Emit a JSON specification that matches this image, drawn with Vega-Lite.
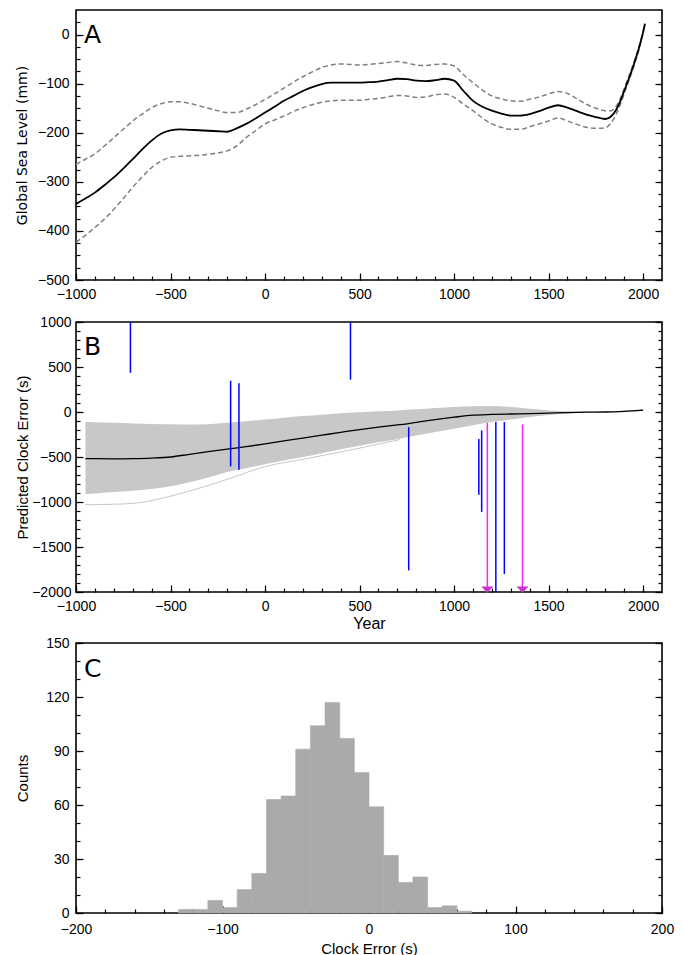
{
  "$schema": "https://vega.github.io/schema/vega-lite/v6.json",
  "background": "white",
  "padding": {"left": 14, "top": 9, "right": 10, "bottom": 5},
  "config": {
    "view": {"stroke": "black", "strokeWidth": 1.6},
    "axis": {
      "domain": false, "grid": false,
      "tickColor": "black", "tickWidth": 1.2,
      "labelFont": "Liberation Sans", "labelFontSize": 14, "labelColor": "black",
      "labelOverlap": false, "labelFlush": false,
      "titleFont": "Liberation Sans", "titleFontSize": 15, "titleFontWeight": "normal", "titleColor": "black"
    }
  },
  "datasets": {
    "sea": [
      {"year": -1000, "mean": -345, "upper": -264, "lower": -423},
      {"year": -950, "mean": -334, "upper": -254, "lower": -409},
      {"year": -900, "mean": -322, "upper": -243, "lower": -393},
      {"year": -850, "mean": -307, "upper": -227, "lower": -376},
      {"year": -800, "mean": -291, "upper": -210, "lower": -356},
      {"year": -750, "mean": -273, "upper": -193, "lower": -334},
      {"year": -700, "mean": -254, "upper": -176, "lower": -311},
      {"year": -650, "mean": -234, "upper": -162, "lower": -290},
      {"year": -600, "mean": -216, "upper": -149, "lower": -271},
      {"year": -550, "mean": -202, "upper": -141, "lower": -258},
      {"year": -500, "mean": -195, "upper": -137, "lower": -250},
      {"year": -450, "mean": -193, "upper": -137, "lower": -248},
      {"year": -400, "mean": -194, "upper": -140, "lower": -247},
      {"year": -350, "mean": -195, "upper": -145, "lower": -246},
      {"year": -300, "mean": -196, "upper": -150, "lower": -244},
      {"year": -250, "mean": -197, "upper": -155, "lower": -241},
      {"year": -200, "mean": -198, "upper": -159, "lower": -237},
      {"year": -150, "mean": -191, "upper": -159, "lower": -227},
      {"year": -100, "mean": -182, "upper": -152, "lower": -210},
      {"year": -50, "mean": -171, "upper": -143, "lower": -196},
      {"year": 0, "mean": -159, "upper": -132, "lower": -182},
      {"year": 50, "mean": -147, "upper": -121, "lower": -174},
      {"year": 100, "mean": -135, "upper": -109, "lower": -166},
      {"year": 150, "mean": -125, "upper": -97, "lower": -157},
      {"year": 200, "mean": -115, "upper": -86, "lower": -149},
      {"year": 250, "mean": -107, "upper": -76, "lower": -143},
      {"year": 300, "mean": -101, "upper": -67, "lower": -138},
      {"year": 350, "mean": -98, "upper": -62, "lower": -135},
      {"year": 400, "mean": -98, "upper": -60, "lower": -134},
      {"year": 450, "mean": -98, "upper": -61, "lower": -134},
      {"year": 500, "mean": -98, "upper": -62, "lower": -134},
      {"year": 550, "mean": -97, "upper": -61, "lower": -132},
      {"year": 600, "mean": -96, "upper": -59, "lower": -130},
      {"year": 650, "mean": -93, "upper": -57, "lower": -127},
      {"year": 700, "mean": -90, "upper": -55, "lower": -124},
      {"year": 750, "mean": -91, "upper": -58, "lower": -125},
      {"year": 800, "mean": -94, "upper": -62, "lower": -128},
      {"year": 850, "mean": -95, "upper": -63, "lower": -127},
      {"year": 900, "mean": -93, "upper": -61, "lower": -123},
      {"year": 950, "mean": -90, "upper": -60, "lower": -121},
      {"year": 1000, "mean": -94, "upper": -64, "lower": -128},
      {"year": 1050, "mean": -115, "upper": -82, "lower": -142},
      {"year": 1100, "mean": -135, "upper": -98, "lower": -155},
      {"year": 1150, "mean": -147, "upper": -113, "lower": -170},
      {"year": 1200, "mean": -155, "upper": -125, "lower": -182},
      {"year": 1250, "mean": -161, "upper": -131, "lower": -189},
      {"year": 1300, "mean": -165, "upper": -135, "lower": -193},
      {"year": 1350, "mean": -165, "upper": -136, "lower": -193},
      {"year": 1400, "mean": -162, "upper": -132, "lower": -188},
      {"year": 1450, "mean": -156, "upper": -127, "lower": -182},
      {"year": 1500, "mean": -149, "upper": -121, "lower": -176},
      {"year": 1550, "mean": -144, "upper": -116, "lower": -170},
      {"year": 1600, "mean": -149, "upper": -120, "lower": -176},
      {"year": 1650, "mean": -156, "upper": -131, "lower": -183},
      {"year": 1700, "mean": -163, "upper": -142, "lower": -189},
      {"year": 1750, "mean": -168, "upper": -150, "lower": -191},
      {"year": 1800, "mean": -172, "upper": -155, "lower": -190},
      {"year": 1830, "mean": -167, "upper": -155, "lower": -180},
      {"year": 1850, "mean": -158, "upper": -150, "lower": -168},
      {"year": 1880, "mean": -135, "upper": -130, "lower": -142},
      {"year": 1900, "mean": -115, "upper": -110, "lower": -120},
      {"year": 1950, "mean": -62, "upper": -58, "lower": -66},
      {"year": 1980, "mean": -25, "upper": -22, "lower": -28},
      {"year": 2000, "mean": 5, "upper": 6, "lower": 4},
      {"year": 2010, "mean": 22, "upper": 22, "lower": 22}
    ],
    "ens": [
      {"year": -950, "lo": -910, "hi": -112, "mean": -518},
      {"year": -900, "lo": -905, "hi": -114, "mean": -519},
      {"year": -800, "lo": -890, "hi": -120, "mean": -520},
      {"year": -700, "lo": -875, "hi": -127, "mean": -518},
      {"year": -600, "lo": -855, "hi": -133, "mean": -512},
      {"year": -500, "lo": -825, "hi": -137, "mean": -500},
      {"year": -400, "lo": -780, "hi": -140, "mean": -470},
      {"year": -300, "lo": -728, "hi": -135, "mean": -440},
      {"year": -200, "lo": -668, "hi": -120, "mean": -412},
      {"year": -100, "lo": -625, "hi": -103, "mean": -385},
      {"year": 0, "lo": -580, "hi": -83, "mean": -355},
      {"year": 100, "lo": -540, "hi": -63, "mean": -322},
      {"year": 200, "lo": -500, "hi": -45, "mean": -290},
      {"year": 300, "lo": -458, "hi": -30, "mean": -258},
      {"year": 400, "lo": -415, "hi": -15, "mean": -226},
      {"year": 500, "lo": -375, "hi": -3, "mean": -195},
      {"year": 600, "lo": -337, "hi": 8, "mean": -168},
      {"year": 700, "lo": -302, "hi": 18, "mean": -144},
      {"year": 800, "lo": -262, "hi": 30, "mean": -115},
      {"year": 900, "lo": -222, "hi": 45, "mean": -85},
      {"year": 1000, "lo": -185, "hi": 56, "mean": -58},
      {"year": 1100, "lo": -148, "hi": 65, "mean": -35},
      {"year": 1200, "lo": -112, "hi": 67, "mean": -27},
      {"year": 1300, "lo": -82, "hi": 55, "mean": -22},
      {"year": 1400, "lo": -55, "hi": 35, "mean": -18},
      {"year": 1500, "lo": -33, "hi": 18, "mean": -12},
      {"year": 1600, "lo": -17, "hi": 8, "mean": -6},
      {"year": 1700, "lo": -6, "hi": 3, "mean": -2},
      {"year": 1800, "lo": -1, "hi": 4, "mean": 0},
      {"year": 1900, "lo": 3, "hi": 14, "mean": 7},
      {"year": 2000, "lo": 10, "hi": 32, "mean": 20}
    ],
    "outl": [
      {"year": -952, "v": -1030},
      {"year": -800, "v": -1025},
      {"year": -679, "v": -1011},
      {"year": -503, "v": -937},
      {"year": -344, "v": -844},
      {"year": -168, "v": -726},
      {"year": -26, "v": -622},
      {"year": 238, "v": -511},
      {"year": 503, "v": -400},
      {"year": 714, "v": -307}
    ],
    "blue": [
      {"year": -712, "y1": 435, "y2": 1000},
      {"year": 452, "y1": 360, "y2": 1000},
      {"year": -182, "y1": 347, "y2": -604},
      {"year": -138, "y1": 320, "y2": -642},
      {"year": 760, "y1": -168, "y2": -1760},
      {"year": 1131, "y1": -300, "y2": -920},
      {"year": 1146, "y1": -205, "y2": -1110},
      {"year": 1221, "y1": -112, "y2": -2000},
      {"year": 1266, "y1": -112, "y2": -1800}
    ],
    "arrows": [
      {"year": 1176, "from": -120, "to": -1975},
      {"year": 1362, "from": -138, "to": -1975}
    ],
    "hist": [
      {"lo": -130, "hi": -120, "count": 2},
      {"lo": -120, "hi": -110, "count": 2},
      {"lo": -110, "hi": -100, "count": 7},
      {"lo": -100, "hi": -90, "count": 3},
      {"lo": -90, "hi": -80, "count": 13},
      {"lo": -80, "hi": -70, "count": 22},
      {"lo": -70, "hi": -60, "count": 63},
      {"lo": -60, "hi": -50, "count": 65},
      {"lo": -50, "hi": -40, "count": 91},
      {"lo": -40, "hi": -30, "count": 104},
      {"lo": -30, "hi": -20, "count": 117},
      {"lo": -20, "hi": -10, "count": 97},
      {"lo": -10, "hi": 0, "count": 78},
      {"lo": 0, "hi": 10, "count": 59},
      {"lo": 10, "hi": 20, "count": 32},
      {"lo": 20, "hi": 30, "count": 17},
      {"lo": 30, "hi": 40, "count": 20},
      {"lo": 40, "hi": 50, "count": 3},
      {"lo": 50, "hi": 60, "count": 4},
      {"lo": 60, "hi": 70, "count": 1}
    ]
  },
  "spacing": 3,
  "vconcat": [
    {
      "spacing": 12,
      "vconcat": [
        {
          "width": 586,
          "height": 270,
          "resolve": {"axis": {"x": "independent", "y": "independent"}},
          "layer": [
            {
              "data": {"name": "sea"},
              "mark": {"type": "line", "color": "#808080", "strokeWidth": 1.5, "strokeDash": [5, 3], "interpolate": "monotone"},
              "encoding": {
                "x": {
                  "field": "year", "type": "quantitative",
                  "scale": {"domain": [-1000, 2100], "nice": false, "zero": false},
                  "axis": {
                    "orient": "bottom", "title": null, "format": "d", "offset": -7, "ticks": true, "tickSize": 7, "labelPadding": 7,
                    "values": [-1000, -500, 0, 500, 1000, 1500, 2000]
                  }
                },
                "y": {
                  "field": "upper", "type": "quantitative",
                  "scale": {"domain": [-500, 50], "nice": false, "zero": false},
                  "axis": {
                    "orient": "left", "title": "Global Sea Level (mm)", "titleFont": "DejaVu Sans", "titleFontSize": 14,
                    "titleX": -61, "titleBaseline": "middle", "format": "d", "offset": -7, "ticks": true, "tickSize": 7, "labelPadding": 7,
                    "values": [-500, -400, -300, -200, -100, 0]
                  }
                }
              }
            },
            {
              "data": {"name": "sea"},
              "mark": {"type": "line", "color": "#808080", "strokeWidth": 1.5, "strokeDash": [5, 3], "interpolate": "monotone"},
              "encoding": {
                "x": {
                  "field": "year", "type": "quantitative",
                  "axis": {
                    "orient": "bottom", "title": null, "labels": false, "offset": -4, "ticks": true, "tickSize": 4,
                    "values": [-1000,-900,-800,-700,-600,-500,-400,-300,-200,-100,0,100,200,300,400,500,600,700,800,900,1000,1100,1200,1300,1400,1500,1600,1700,1800,1900,2000]
                  }
                },
                "y": {
                  "field": "lower", "type": "quantitative",
                  "axis": {
                    "orient": "right", "title": null, "labels": false, "offset": -7, "ticks": true, "tickSize": 7,
                    "values": [-500, -400, -300, -200, -100, 0]
                  }
                }
              }
            },
            {
              "data": {"name": "sea"},
              "mark": {"type": "line", "color": "black", "strokeWidth": 1.8, "interpolate": "monotone"},
              "encoding": {
                "x": {"field": "year", "type": "quantitative", "axis": null},
                "y": {
                  "field": "mean", "type": "quantitative",
                  "axis": {
                    "orient": "left", "title": null, "labels": false, "offset": -4, "ticks": true, "tickSize": 4,
                    "values": [-500,-475,-450,-425,-400,-375,-350,-325,-300,-275,-250,-225,-200,-175,-150,-125,-100,-75,-50,-25,0,25]
                  }
                }
              }
            },
            {
              "data": {"values": [{"panel": "A"}]},
              "mark": {"type": "text", "font": "DejaVu Sans", "fontSize": 25, "align": "left", "baseline": "alphabetic", "dx": 8, "dy": 33, "color": "black"},
              "encoding": {
                "x": {"datum": -1000, "type": "quantitative", "axis": null},
                "y": {
                  "datum": 50, "type": "quantitative",
                  "axis": {
                    "orient": "right", "title": null, "labels": false, "offset": -4, "ticks": true, "tickSize": 4,
                    "values": [-500,-475,-450,-425,-400,-375,-350,-325,-300,-275,-250,-225,-200,-175,-150,-125,-100,-75,-50,-25,0,25]
                  }
                },
                "text": {"field": "panel"}
              }
            }
          ]
        },
        {
          "width": 586,
          "height": 270,
          "resolve": {"axis": {"x": "independent", "y": "independent"}},
          "layer": [
            {
              "data": {"name": "ens"},
              "mark": {"type": "area", "color": "#c8c8c8", "interpolate": "monotone"},
              "encoding": {
                "x": {
                  "field": "year", "type": "quantitative",
                  "scale": {"domain": [-1000, 2100], "nice": false, "zero": false},
                  "axis": {
                    "orient": "bottom", "title": "Year", "titleFontSize": 16, "titlePadding": 2, "format": "d", "offset": -7, "ticks": true, "tickSize": 7, "labelPadding": 7,
                    "values": [-1000, -500, 0, 500, 1000, 1500, 2000]
                  }
                },
                "y": {
                  "field": "lo", "type": "quantitative",
                  "scale": {"domain": [-2000, 1000], "nice": false, "zero": false},
                  "axis": {
                    "orient": "left", "title": "Predicted Clock Error (s)", "titleX": -61, "titleBaseline": "middle", "format": "d", "offset": -7, "ticks": true, "tickSize": 7, "labelPadding": 5,
                    "values": [-2000, -1500, -1000, -500, 0, 500, 1000]
                  }
                },
                "y2": {"field": "hi"}
              }
            },
            {
              "data": {"name": "outl"},
              "mark": {"type": "line", "color": "#c8c8c8", "strokeWidth": 1, "interpolate": "monotone"},
              "encoding": {
                "x": {
                  "field": "year", "type": "quantitative",
                  "axis": {
                    "orient": "bottom", "title": null, "labels": false, "offset": -4, "ticks": true, "tickSize": 4,
                    "values": [-1000,-900,-800,-700,-600,-500,-400,-300,-200,-100,0,100,200,300,400,500,600,700,800,900,1000,1100,1200,1300,1400,1500,1600,1700,1800,1900,2000]
                  }
                },
                "y": {
                  "field": "v", "type": "quantitative",
                  "axis": {
                    "orient": "right", "title": null, "labels": false, "offset": -7, "ticks": true, "tickSize": 7,
                    "values": [-2000, -1500, -1000, -500, 0, 500, 1000]
                  }
                }
              }
            },
            {
              "data": {"name": "ens"},
              "mark": {"type": "line", "color": "black", "strokeWidth": 1.3, "interpolate": "monotone"},
              "encoding": {
                "x": {"field": "year", "type": "quantitative", "axis": null},
                "y": {
                  "field": "mean", "type": "quantitative",
                  "axis": {
                    "orient": "left", "title": null, "labels": false, "offset": -4, "ticks": true, "tickSize": 4,
                    "values": [-2000,-1900,-1800,-1700,-1600,-1500,-1400,-1300,-1200,-1100,-1000,-900,-800,-700,-600,-500,-400,-300,-200,-100,0,100,200,300,400,500,600,700,800,900,1000]
                  }
                }
              }
            },
            {
              "data": {"name": "blue"},
              "mark": {"type": "rule", "color": "#0000ff", "strokeWidth": 1.5},
              "encoding": {
                "x": {"field": "year", "type": "quantitative", "axis": null},
                "y": {
                  "field": "y1", "type": "quantitative",
                  "axis": {
                    "orient": "right", "title": null, "labels": false, "offset": -4, "ticks": true, "tickSize": 4,
                    "values": [-2000,-1900,-1800,-1700,-1600,-1500,-1400,-1300,-1200,-1100,-1000,-900,-800,-700,-600,-500,-400,-300,-200,-100,0,100,200,300,400,500,600,700,800,900,1000]
                  }
                },
                "y2": {"field": "y2"}
              }
            },
            {
              "data": {"name": "arrows"},
              "mark": {"type": "rule", "color": "#ff22ff", "strokeWidth": 1.5},
              "encoding": {
                "x": {"field": "year", "type": "quantitative", "axis": null},
                "y": {"field": "from", "type": "quantitative", "axis": null},
                "y2": {"field": "to"}
              }
            },
            {
              "data": {"name": "arrows"},
              "mark": {"type": "point", "shape": "M-1,-0.55L1,-0.55L0,0.55Z", "filled": true, "color": "#cc33cc", "size": 144, "opacity": 1},
              "encoding": {
                "x": {"field": "year", "type": "quantitative", "axis": null},
                "y": {"field": "to", "type": "quantitative", "axis": null}
              }
            },
            {
              "data": {"values": [{"panel": "B"}]},
              "mark": {"type": "text", "font": "DejaVu Sans", "fontSize": 25, "align": "left", "baseline": "alphabetic", "dx": 8, "dy": 33, "color": "black"},
              "encoding": {
                "x": {"datum": -1000, "type": "quantitative", "axis": null},
                "y": {"datum": 1000, "type": "quantitative", "axis": null},
                "text": {"field": "panel"}
              }
            }
          ]
        }
      ]
    },
    {
      "width": 586,
      "height": 270,
      "resolve": {"axis": {"x": "independent", "y": "independent"}},
      "layer": [
        {
          "data": {"name": "hist"},
          "mark": {"type": "bar", "color": "#aaaaaa", "stroke": "#aaaaaa", "strokeWidth": 0.6},
          "encoding": {
            "x": {
              "field": "lo", "type": "quantitative",
              "scale": {"domain": [-200, 200], "nice": false, "zero": false},
              "axis": {
                "orient": "bottom", "title": "Clock Error (s)", "titlePadding": 5, "format": "d", "offset": -7, "ticks": true, "tickSize": 7, "labelPadding": 9,
                "values": [-200, -100, 0, 100, 200]
              }
            },
            "x2": {"field": "hi"},
            "y": {
              "field": "count", "type": "quantitative",
              "scale": {"domain": [0, 150], "nice": false},
              "axis": {
                "orient": "left", "title": "Counts", "titleX": -61, "titleBaseline": "middle", "format": "d", "offset": -7, "ticks": true, "tickSize": 7, "labelPadding": 7,
                "values": [0, 30, 60, 90, 120, 150]
              }
            },
            "y2": {"datum": 0}
          }
        },
        {
          "data": {"name": "hist"},
          "mark": {"type": "bar", "opacity": 0},
          "encoding": {
            "x": {
              "field": "lo", "type": "quantitative",
              "axis": {
                "orient": "bottom", "title": null, "labels": false, "offset": -4, "ticks": true, "tickSize": 4,
                "values": [-200,-180,-160,-140,-120,-100,-80,-60,-40,-20,0,20,40,60,80,100,120,140,160,180,200]
              }
            },
            "x2": {"field": "hi"},
            "y": {
              "field": "count", "type": "quantitative",
              "axis": {
                "orient": "right", "title": null, "labels": false, "offset": -7, "ticks": true, "tickSize": 7,
                "values": [0, 30, 60, 90, 120, 150]
              }
            },
            "y2": {"datum": 0}
          }
        },
        {
          "data": {"name": "hist"},
          "mark": {"type": "bar", "opacity": 0},
          "encoding": {
            "x": {"field": "lo", "type": "quantitative", "axis": null},
            "x2": {"field": "hi"},
            "y": {
              "field": "count", "type": "quantitative",
              "axis": {
                "orient": "left", "title": null, "labels": false, "offset": -4, "ticks": true, "tickSize": 4,
                "values": [0,10,20,30,40,50,60,70,80,90,100,110,120,130,140,150]
              }
            },
            "y2": {"datum": 0}
          }
        },
        {
          "data": {"values": [{"panel": "C"}]},
          "mark": {"type": "text", "font": "DejaVu Sans", "fontSize": 25, "align": "left", "baseline": "alphabetic", "dx": 8, "dy": 34, "color": "black"},
          "encoding": {
            "x": {"datum": -200, "type": "quantitative", "axis": null},
            "y": {
              "datum": 150, "type": "quantitative",
              "axis": {
                "orient": "right", "title": null, "labels": false, "offset": -4, "ticks": true, "tickSize": 4,
                "values": [0,10,20,30,40,50,60,70,80,90,100,110,120,130,140,150]
              }
            },
            "text": {"field": "panel"}
          }
        }
      ]
    }
  ]
}
